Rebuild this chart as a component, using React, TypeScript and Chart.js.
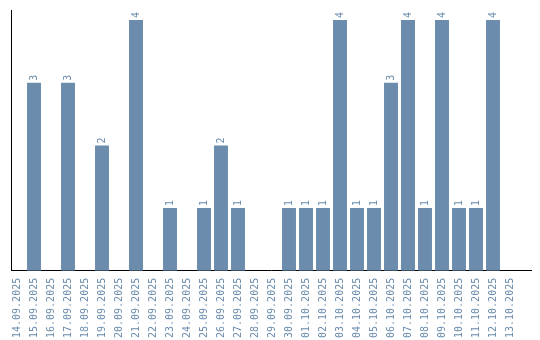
import React, { useEffect, useRef } from "react";
import { Chart, registerables } from "chart.js";

Chart.register(...registerables);

const categories: string[] = [
  "14.09.2025", "15.09.2025", "16.09.2025", "17.09.2025", "18.09.2025",
  "19.09.2025", "20.09.2025", "21.09.2025", "22.09.2025", "23.09.2025",
  "24.09.2025", "25.09.2025", "26.09.2025", "27.09.2025", "28.09.2025",
  "29.09.2025", "30.09.2025", "01.10.2025", "02.10.2025", "03.10.2025",
  "04.10.2025", "05.10.2025", "06.10.2025", "07.10.2025", "08.10.2025",
  "09.10.2025", "10.10.2025", "11.10.2025", "12.10.2025", "13.10.2025",
];

const counts: number[] = [
  0, 3, 0, 3, 0,
  2, 0, 4, 0, 1,
  0, 1, 2, 1, 0,
  0, 1, 1, 1, 4,
  1, 1, 3, 4, 1,
  4, 1, 1, 4, 0,
];

const BAR_COLOR = "#6b8cad";
const TEXT_COLOR = "#6a8bab";
const FONT = "'DejaVu Sans Mono', monospace";

const valueLabels = {
  id: "valueLabels",
  afterDatasetsDraw(chart: any) {
    const ctx = chart.ctx;
    const meta = chart.getDatasetMeta(0);
    ctx.save();
    ctx.fillStyle = TEXT_COLOR;
    ctx.font = `10px ${FONT}`;
    ctx.textAlign = "left";
    ctx.textBaseline = "middle";
    meta.data.forEach((bar: any, i: number) => {
      const v = counts[i];
      if (!v) return;
      ctx.save();
      ctx.translate(bar.x, bar.y - 2);
      ctx.rotate(-Math.PI / 2);
      ctx.fillText(String(v), 0, 0);
      ctx.restore();
    });
    ctx.restore();
  },
};

export default function App() {
  const canvasRef = useRef<HTMLCanvasElement | null>(null);

  useEffect(() => {
    if (!canvasRef.current) return;
    const chart = new Chart(canvasRef.current, {
      type: "bar",
      data: {
        datasets: [
          {
            data: counts.map((v, i) => ({ x: i, y: v })),
            backgroundColor: BAR_COLOR,
            borderWidth: 0,
            barPercentage: 1,
            categoryPercentage: 0.82,
          },
        ],
      },
      options: {
        animation: false,
        responsive: false,
        maintainAspectRatio: false,
        layout: { padding: { left: 11, top: 10, right: 9, bottom: 2 } },
        plugins: {
          legend: { display: false },
          tooltip: { enabled: false },
        },
        scales: {
          x: {
            type: "linear",
            bounds: "data",
            offset: false,
            min: -0.353,
            max: 30.235,
            afterBuildTicks: (scale: any) => {
              scale.ticks = categories.map((_, i) => ({ value: i }));
            },
            grid: { display: false, offset: false, drawTicks: true, tickLength: 7 },
            border: { display: true, color: "#000000", width: 1 },
            ticks: {
              autoSkip: false,
              maxRotation: 90,
              minRotation: 90,
              padding: 0,
              color: TEXT_COLOR,
              font: { family: FONT, size: 10 },
              callback: (value: any) => {
                const n = Math.round(Number(value));
                return categories[n] ?? "";
              },
            },
          },
          y: {
            min: 0,
            max: 4.16,
            grid: { display: false, drawTicks: false },
            border: { display: true, color: "#000000", width: 1 },
            ticks: { display: false },
          },
        },
      },
      plugins: [valueLabels],
    });
    return () => chart.destroy();
  }, []);

  return (
    <div style={{ position: "absolute", left: 0, top: 0, width: 540, height: 340 }}>
      <canvas ref={canvasRef} width={540} height={340} style={{ width: 540, height: 340 }} />
    </div>
  );
}
